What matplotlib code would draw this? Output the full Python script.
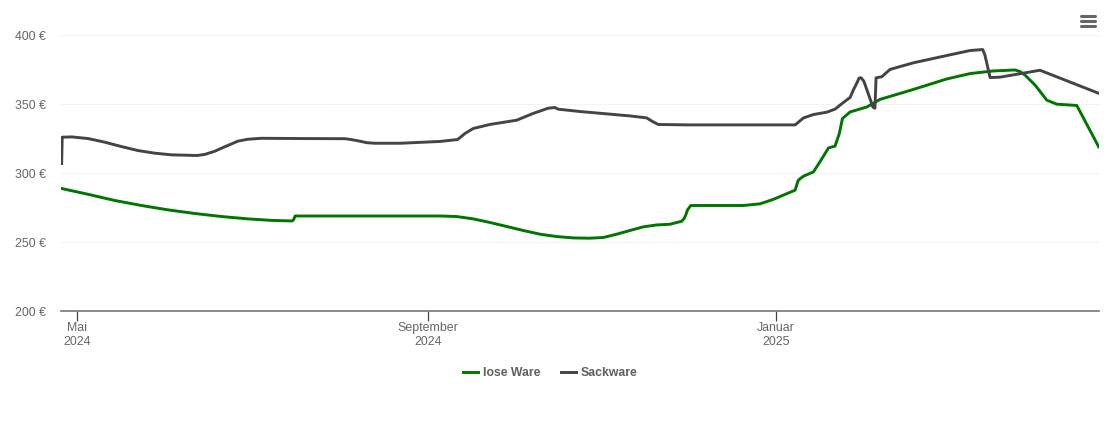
import matplotlib
matplotlib.use("Agg")
import matplotlib.pyplot as plt
from matplotlib.lines import Line2D

plt.rcParams["font.family"] = ["Liberation Sans", "DejaVu Sans"]

# days since 1 May 2024, price in euro
lose_days = [-5.5, 3.8, 13.2, 22.5, 31.9, 41.2, 50.6, 59.9, 68.1, 75.4, 75.9, 76.4, 79.8, 113.2, 127.2,
             133, 138.9, 144.7, 150.6, 156.4, 162.3, 168.1, 174, 179.8, 184.5, 189.2, 193.9, 198.5, 203.2,
             207.9, 212, 212.9, 213.5, 214, 215.2, 233.6, 239.5, 244.1, 251.8, 252.9, 254.7, 258.2, 260.5,
             263.5, 265.8, 267.3, 268.4, 271.1, 277, 281.6, 293.3, 305, 313.2, 321.3, 329, 330.7, 332.5,
             336, 340.1, 343.6, 350.6, 358.3]
lose_price = [288.9, 284.7, 280.2, 276.6, 273.4, 270.8, 268.6, 266.9, 265.8, 265.4, 266.4, 269, 269, 269,
              269, 268.6, 266.9, 264.3, 261.4, 258.5, 255.8, 254.1, 253.1, 252.9, 253.4, 255.8, 258.5,
              261.1, 262.5, 263, 265.2, 267.2, 270, 273.2, 276.6, 276.6, 277.8, 281, 287.7, 294.9, 297.8,
              300.9, 308.2, 318.3, 319.6, 328.7, 339.6, 344.4, 348, 353.5, 360.7, 368.3, 372.2, 374.1,
              374.8, 373.6, 371, 363.8, 352.9, 350, 349.1, 319.1]

sack_days = [-5.5, -5.3, -2, 3.8, 9.6, 15.5, 21.3, 27.2, 33.1, 38.9, 41.9, 44.7, 48.2, 51.8, 56.3, 59.8, 64.6,
             79.8, 93.9, 96.3, 99.1, 101.6, 104.4, 113.2, 127.2, 133.4, 136, 138.9, 144.7, 154.1, 159.9,
             165.2, 167.5, 168.7, 176.3, 185.7, 193.9, 199.7, 202, 203.8, 214.9, 251.8, 254.7, 258.2,
             262.9, 265.8, 268.7, 271.1, 272.2, 273.5, 274.2, 274.9, 275.9, 277.4, 279.1, 279.8, 280.2,
             282.2, 285.1, 293.3, 307.3, 313.2, 317.6, 318.4, 320.2, 323.7, 337.7, 358.3]
sack_price = [307, 326.1, 326.3, 325.1, 322.5, 319.3, 316.4, 314.5, 313.3, 313, 312.8, 313.6, 315.9, 319.2,
              323.2, 324.6, 325.3, 325.1, 325, 324.3, 323.2, 322.1, 321.7, 321.7, 323, 324.4, 328.8, 332.4,
              335.3, 338.4, 343.3, 347.1, 347.6, 346.4, 344.7, 343, 341.5, 340.1, 337.2, 335.3, 335, 335,
              340, 342.5, 344.2, 346.4, 351.2, 354.9, 360.2, 365.5, 368.8, 369.2, 366.7, 358, 347.8,
              347.1, 369.1, 369.9, 375.2, 380, 386.3, 388.9, 389.6, 385.5, 369.3, 369.6, 374.6, 357.9]

month_ticks = [0, 123, 245]
month_labels = ["Mai\n2024", "September\n2024", "Januar\n2025"]
y_ticks = [200, 250, 300, 350, 400]

W, H = 1110, 422
fig = plt.figure(figsize=(W / 100, H / 100), dpi=100)
ax = fig.add_axes([60.8 / W, 1 - 311.2 / H, 1038.2 / W, 276 / H])

ax.plot(lose_days, lose_price, color="#007500", lw=2.1, solid_joinstyle="round", label="lose Ware", zorder=3)
ax.plot(sack_days, sack_price, color="#434348", lw=2.1, solid_joinstyle="round", label="Sackware", zorder=4)

ax.set_xlim(-5.79, 358.4)
ax.set_ylim(200, 400)
for s in ["top", "left", "right"]:
    ax.spines[s].set_visible(False)
ax.spines["bottom"].set_color("#777777")
ax.spines["bottom"].set_linewidth(1.2)

ax.set_yticks(y_ticks)
ax.set_yticklabels([f"{v} €" for v in y_ticks])
ax.tick_params(axis="y", length=0, pad=10.8, labelsize=8.9, labelcolor="#666666")
ax.set_xticks(month_ticks)
ax.set_xticklabels(month_labels, linespacing=1.2)
ax.tick_params(axis="x", length=7, width=0.9, color="#444444", pad=1, labelsize=8.9, labelcolor="#666666")
ax.grid(axis="y", color="#e6e6e6", lw=0.7, ls=(0, (1, 1)))
ax.set_axisbelow(True)

fig.legend(
    loc="center",
    bbox_to_anchor=(550 / W, 1 - 373 / H),
    ncols=2,
    frameon=False,
    handlelength=1.22,
    handletextpad=0.41,
    columnspacing=1.7,
    prop={"size": 8.8, "weight": "bold"},
    labelcolor="#5f5f5f",
)

# menu icon top right
for y_px in [16, 21, 26]:
    fig.add_artist(Line2D([1081 / W, 1095 / W], [1 - y_px / H] * 2, color="#666666", lw=2.2,
                          solid_capstyle="round"))

fig.savefig("out.png", dpi=100)
